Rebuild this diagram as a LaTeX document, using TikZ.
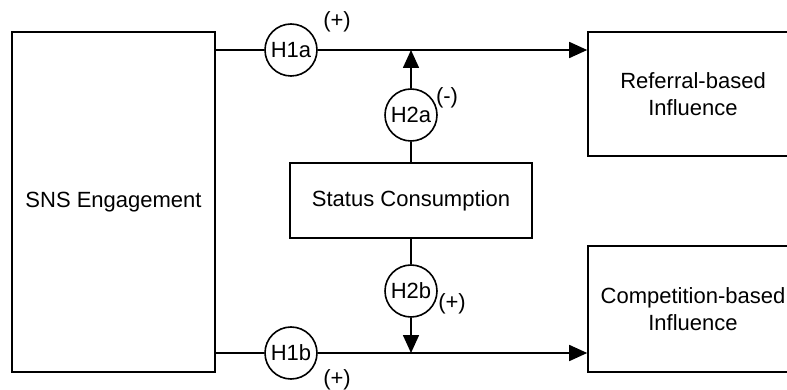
\documentclass[tikz,border=0pt]{standalone}
\usepackage{fontspec}
\setmainfont{Liberation Sans}
\usetikzlibrary{arrows.meta}
\begin{document}
\begin{tikzpicture}[x=1pt,y=-1pt,
  line width=1.6pt,
  every node/.style={font=\fontsize{22}{26.5}\selectfont},
  box/.style={draw, rectangle, inner sep=0pt, align=center},
  hyp/.style={draw, circle, fill=white, minimum size=52pt, inner sep=0pt},
  sgn/.style={inner sep=0pt},
  arr/.style={-{Triangle[length=18pt,width=16pt]}}]
\useasboundingbox (0,0) rectangle (787,390);
\node[box, minimum width=203pt, minimum height=340pt] (sns) at (113.5,202) {SNS Engagement};
\node[box, minimum width=210pt, minimum height=124pt] (ref) at (693,94) {Referral-based\\Influence};
\node[box, minimum width=210pt, minimum height=126pt] (comp) at (693,309) {Competition-based\\Influence};
\node[box, minimum width=242pt, minimum height=75pt] (status) at (411,200.5) {Status Consumption};
\node[hyp] (h1a) at (291,50) {H1a};
\node[hyp] (h1b) at (291,353) {H1b};
\node[hyp] (h2a) at (411,115) {H2a};
\node[hyp] (h2b) at (411,291) {H2b};
\coordinate (ja) at (status.north |- h1a);
\coordinate (jb) at (status.south |- h1b);
\draw (sns.east |- h1a) -- (h1a);
\draw[arr] (h1a) -- (ref.west |- h1a);
\draw (sns.east |- h1b) -- (h1b);
\draw[arr] (h1b) -- (comp.west |- h1b);
\draw (status.north) -- (h2a);
\draw[arr] (h2a) -- (ja);
\draw (status.south) -- (h2b);
\draw[arr] (h2b) -- (jb);
\node[sgn] (s1a) at (337,22) {(+)};
\node[sgn] (s2a) at (447,98) {(-)};
\node[sgn] (s2b) at (452,304) {(+)};
\node[sgn] (s1b) at (337,380) {(+)};
\end{tikzpicture}
\end{document}
